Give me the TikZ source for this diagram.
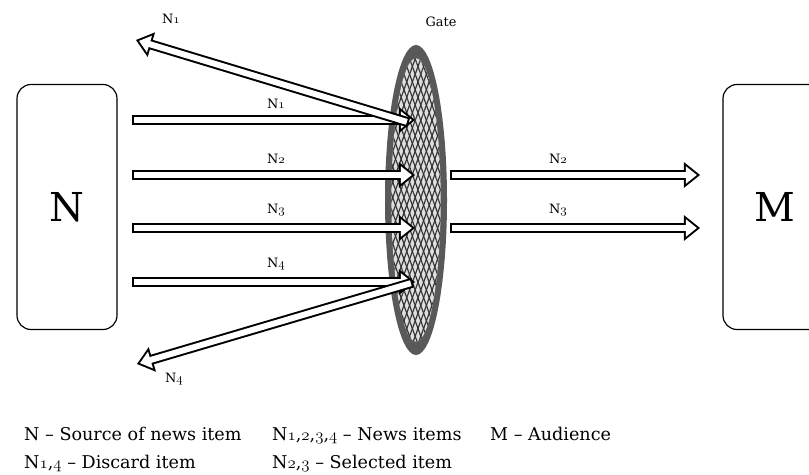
\documentclass[tikz,border=0pt]{standalone}
\usepackage{fontspec}
\setmainfont{DejaVu Serif}
\usetikzlibrary{arrows.meta,patterns.meta,shapes.geometric}
\newcommand{\os}[1]{$\mathnormal{#1}$}
\tikzset{
  pipe/.style={draw=white, line width=5.1pt, line cap=rect, shorten >=2.7pt,
    -{Triangle[length=9.3pt, width=14.9pt, line width=0pt]},
    preaction={draw=black, line width=8.5pt, line cap=rect, shorten >=0pt,
      -{Triangle[length=13.7pt, width=22pt, line width=0pt]}}},
  box/.style={draw, line width=1pt, rounded corners=12pt, minimum width=3cm, minimum height=7.35cm, font=\fontsize{34}{40}\selectfont},
  lbl/.style={font=\fontsize{11}{13}\selectfont},
  key/.style={anchor=base west, inner sep=0pt, font=\fontsize{15}{17}\selectfont},
  mesh/.style={pattern={Lines[angle=#1, distance=4.5pt, line width=1pt]}, pattern color=gray!40!black}
}
\begin{document}
\begin{tikzpicture}[x=0.03cm, y=-0.03cm]
\clip (0,0) rectangle (809,475);
% source, audience and the gate
\node[box] (src) at (67,207) {N};
\node[box, minimum width=3.12cm] (aud) at (775,207) {M};
\node[ellipse, fill=gray!70!black, inner sep=0pt, minimum width=1.86cm, minimum height=9.3cm] (gate) at (416,200) {};
\fill[gray!25] (gate.center) ellipse [x radius=0.74cm, y radius=4.25cm];
\fill[mesh=70] (gate.center) ellipse [x radius=0.74cm, y radius=4.25cm];
\fill[mesh=110] (gate.center) ellipse [x radius=0.74cm, y radius=4.25cm];
\node[lbl] (gatelbl) at (441,22) {Gate};
% news items into the gate
\foreach \i/\y in {1/120,2/175,3/228,4/282} {
  \coordinate (in\i) at (137,\y);
  \coordinate (gt\i) at (415,\y);
  \draw[pipe] (in\i) -- (gt\i) node[midway, above=4pt, lbl] {N\os{\i}};
}
% selected items
\foreach \i/\y in {2/175,3/228} {
  \coordinate (out\i) at (455,\y);
  \coordinate (end\i) at (700,\y);
  \draw[pipe] (out\i) -- (end\i) node[pos=0.42, above=4pt, lbl] {N\os{\i}};
}
% discarded items
\coordinate (d1s) at (404,121);
\coordinate (d1e) at (136,40);
\coordinate (d4s) at (408,284);
\coordinate (d4e) at (137,364);
\draw[pipe] (d1s) -- (d1e);
\draw[pipe] (d4s) -- (d4e);
\node[lbl] (d1lbl) at (171,19) {N\os{1}};
\node[lbl] (d4lbl) at (174,379) {N\os{4}};
% key
\node[key] (k1) at (24,440) {N – Source of news item};
\node[key] (k2) at (272,440) {N\os{1},\os{2},\os{3},\os{4} – News items};
\node[key] (k3) at (490,440) {M – Audience};
\node[key] (k4) at (24,468) {N\os{1},\os{4} – Discard item};
\node[key] (k5) at (272,468) {N\os{2},\os{3} – Selected item};
\end{tikzpicture}
\end{document}
